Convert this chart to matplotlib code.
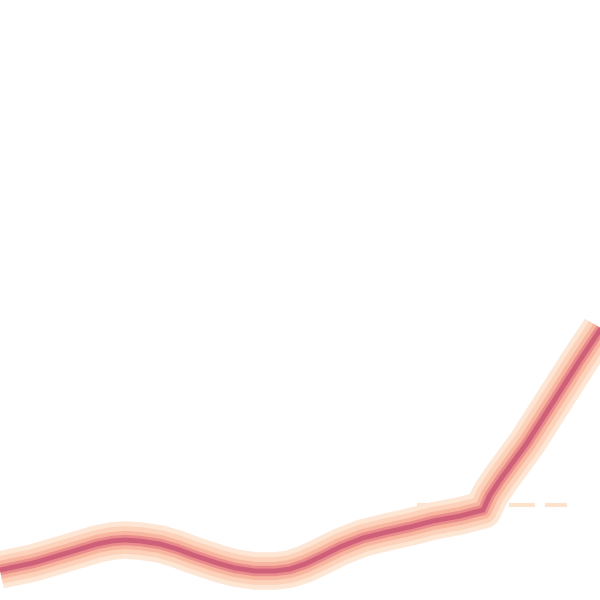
import matplotlib
matplotlib.use("Agg")
import matplotlib.pyplot as plt

# Line series (x position, value)
xs = [0, 33, 67, 97, 112, 125, 140, 160, 177, 193, 217, 235, 255, 275, 290,
      305, 320, 340, 363, 387, 410, 433, 460, 483, 490, 500, 527, 550, 580,
      600, 615]
ys_pix = [570, 563, 553, 544, 541, 540, 541, 544, 549, 555, 563, 568, 571,
          571, 569, 564, 557, 547, 538, 532, 527, 521, 516, 510, 495, 480,
          443, 407, 360, 330, 305]
values = [600 - v for v in ys_pix]

# Reference (dashed) level
ref_start, ref_end = 417, 567
ref_level = 600 - 505

plt.rcParams['lines.scale_dashes'] = False

fig = plt.figure(figsize=(6, 6), dpi=100)
ax = fig.add_axes([0, 0, 1, 1])
ax.set_xlim(0, 600)
ax.set_ylim(0, 600)
ax.axis('off')

ax.plot([ref_start, ref_end], [ref_level, ref_level], color='#fde2cc',
        lw=2.9, linestyle=(11.5, (18.7, 7.2)), dash_capstyle='butt', zorder=1)

glow = [(27, '#fee6d5'), (20, '#fdd2bb'), (13, '#f8b5a0'), (7.5, '#ea8c8c'),
        (3.5, '#cf6079')]
for lw, c in glow:
    ax.plot(xs, values, color=c, lw=lw, solid_capstyle='butt',
            solid_joinstyle='round', zorder=2)

fig.savefig('out.png', dpi=100)
